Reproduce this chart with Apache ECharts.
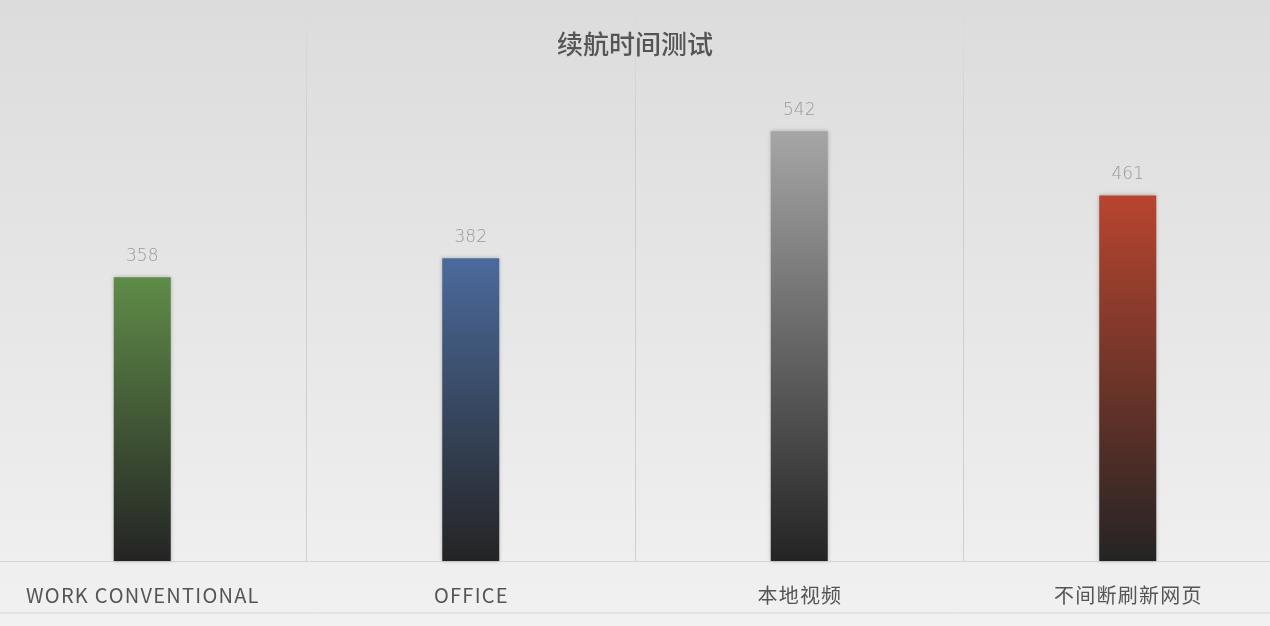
<!DOCTYPE html>
<html><head><meta charset="utf-8">
<script src="https://cdn.jsdelivr.net/npm/echarts@6/dist/echarts.min.js"></script>
<style>html,body{margin:0;padding:0;background:#e8e8e8}#c{width:1270px;height:626px}</style>
</head><body><div id="c"></div>
<script>
const titleText = '续航时间测试';
const categories = ['WORK CONVENTIONAL', 'OFFICE', '本地视频', '不间断刷新网页'];
const values = [358, 382, 542, 461];
const topColors = ['#5f8c48', '#4b6a9c', '#a6a6a6', '#b8452f'];

const chart = echarts.init(document.getElementById('c'));
chart.setOption({
  backgroundColor: new echarts.graphic.LinearGradient(0, 0, 0, 1, [
    {offset: 0, color: '#dcdcdc'}, {offset: 1, color: '#f1f1f1'}]),
  title: {text: titleText, left: 'center', top: 26,
    textStyle: {fontFamily: 'Noto Sans CJK SC', fontSize: 26, fontWeight: 500, color: '#555'}},
  graphic: [{type: 'line', shape: {x1: 0, y1: 613, x2: 1270, y2: 613}, style: {stroke: '#d6d6d6', lineWidth: 1}}],
  grid: {left: -22, right: -22, top: 6, bottom: 65, outerBoundsMode: 'none', containLabel: false},
  xAxis: {type: 'category', data: categories,
    axisLine: {show: true, lineStyle: {color: '#d6d6d6', width: 1}},
    axisTick: {show: false},
    splitLine: {show: true, lineStyle: {color: new echarts.graphic.LinearGradient(0, 0, 0, 1, [
      {offset: 0, color: 'rgba(200,200,200,0)'}, {offset: 0.25, color: 'rgba(200,200,200,0.8)'}, {offset: 1, color: '#cfcfcf'}]), width: 1}},
    axisLabel: {margin: 24, fontSize: 20, color: '#555', fontFamily: 'Noto Sans CJK SC',
      formatter: v => v.split('').join('\u200A')}
  },
  yAxis: {type: 'value', min: 0, max: 700, show: false, splitLine: {show: false}},
  series: [{type: 'bar', barWidth: 57,
    data: values.map((v, i) => ({value: v, itemStyle: {color: new echarts.graphic.LinearGradient(0, 0, 0, 1, [
      {offset: 0, color: topColors[i]}, {offset: 1, color: '#242424'}]),
      shadowColor: 'rgba(0,0,0,0.25)', shadowBlur: 4}})),
    label: {show: true, position: 'top', distance: 12, color: '#999', fontSize: 17, fontFamily: 'DejaVu Sans', fontWeight: 200}
  }]
});
</script></body></html>
